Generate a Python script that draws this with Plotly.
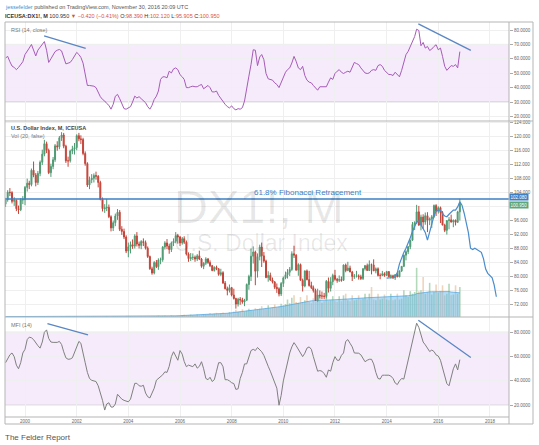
import pandas as pd
import plotly.graph_objects as go

# ---------------- data (monthly, Apr 1999 .. Nov 2016) ----------------
months = pd.date_range("1999-04-01", periods=212, freq="MS")

opens = [
    100.6, 101.9, 104.0, 103.9, 101.4, 101.7, 99.3, 99.0, 101.8,
    101.9, 105.4, 106.6, 106.2, 110.3, 108.9, 106.8, 109.4, 112.6, 114.9, 117.9, 116.0,
    109.6, 111.4, 113.3, 117.3, 117.0, 119.6, 120.4, 117.2, 113.0, 113.0, 115.8, 116.4,
    116.8, 120.2, 119.3, 119.1, 115.1, 112.2, 106.1, 107.6, 108.0, 108.8, 108.6, 106.8,
    102.0, 99.3, 99.5, 99.7, 97.0, 93.8, 95.3, 97.2, 98.3, 93.4, 92.8, 91.2,
    87.2, 88.4, 89.0, 88.6, 91.5, 89.2, 88.8, 89.9, 89.6, 88.0, 85.6, 82.1,
    80.9, 83.9, 82.7, 84.6, 84.7, 88.3, 89.5, 88.6, 87.6, 89.5, 90.0, 91.6,
    91.2, 89.5, 90.7, 89.7, 86.3, 85.0, 85.3, 85.4, 84.9, 85.8, 84.9, 82.8,
    83.7, 84.9, 83.9, 83.0, 81.6, 82.5, 82.1, 80.5, 81.0, 78.0, 76.4, 75.9,
    76.7, 74.6, 73.6, 72.0, 73.4, 73.2, 72.6, 73.1, 77.6, 79.9, 85.7, 86.9,
    81.4, 85.6, 88.3, 85.8, 84.3, 79.6, 80.2, 78.9, 78.3, 76.8, 76.4, 74.9,
    77.9, 79.5, 80.4, 81.1, 81.9, 86.4, 86.0, 81.7, 83.3, 78.8, 77.2, 81.5,
    79.0, 77.3, 76.7, 75.9, 73.0, 74.6, 74.3, 74.3, 74.2, 78.5, 76.5, 78.4,
    80.2, 79.1, 78.8, 79.0, 78.8, 83.2, 81.6, 82.3, 81.2, 79.9, 80.0, 80.1,
    79.8, 79.3, 82.1, 83.0, 81.6, 83.3, 83.2, 81.5, 82.1, 80.2, 80.2, 80.7,
    80.2, 81.3, 79.8, 80.1, 79.5, 80.4, 79.8, 81.5, 82.8, 86.0, 87.0, 88.4,
    90.3, 94.8, 95.3, 98.4, 94.6, 96.9, 95.5, 97.3, 96.0, 96.4, 97.0, 100.2,
    98.6, 99.6, 98.2, 94.6, 93.1, 95.9, 96.1, 95.5, 96.0, 95.4, 98.39,
]
highs = [
    102.4, 104.6, 105.2, 104.3, 102.6, 101.9, 100.2, 102.3, 102.9,
    105.8, 107.9, 107.3, 110.8, 112.8, 109.5, 110.1, 113.1, 116.2, 119.0, 118.5, 116.5,
    112.2, 114.1, 117.8, 118.6, 120.1, 121.2, 121.0, 117.6, 114.2, 116.2, 117.3, 118.1,
    120.6, 121.0, 120.3, 119.6, 115.7, 112.6, 108.5, 109.2, 109.4, 109.9, 108.9, 107.3,
    102.5, 100.6, 102.1, 100.5, 97.4, 95.9, 97.9, 99.2, 98.9, 94.3, 93.6, 91.7,
    89.6, 89.9, 90.5, 92.0, 92.6, 89.9, 90.3, 90.8, 90.2, 88.5, 85.9, 82.7,
    84.3, 84.6, 85.1, 85.3, 88.6, 90.0, 90.6, 89.3, 89.9, 90.8, 92.6, 92.1,
    91.5, 91.2, 91.4, 90.2, 86.8, 86.6, 86.5, 85.9, 86.3, 87.3, 85.2, 84.0,
    85.4, 85.2, 84.5, 83.2, 82.8, 83.0, 82.3, 82.1, 81.4, 78.6, 77.0, 77.6,
    76.9, 76.4, 73.8, 73.8, 74.0, 73.8, 73.5, 77.9, 80.4, 87.9, 88.5, 87.3,
    86.5, 89.0, 89.6, 86.9, 84.7, 81.4, 81.0, 79.6, 78.6, 77.9, 76.8, 78.3,
    79.9, 81.3, 82.0, 82.6, 87.1, 88.7, 86.3, 83.7, 83.6, 79.3, 81.6, 81.9,
    81.5, 78.4, 77.3, 76.4, 76.4, 75.9, 75.6, 75.2, 78.9, 79.6, 79.7, 80.7,
    81.8, 79.5, 80.2, 79.9, 83.3, 83.6, 84.1, 83.0, 81.5, 80.6, 81.5, 80.5,
    80.4, 82.3, 83.2, 83.6, 84.5, 83.6, 84.8, 82.5, 82.5, 80.8, 81.5, 81.1,
    81.5, 81.4, 80.5, 80.4, 80.6, 81.0, 81.6, 82.9, 86.2, 87.4, 88.6, 90.4,
    95.5, 95.7, 100.4, 100.1, 97.6, 97.7, 98.2, 98.3, 96.8, 97.5, 100.5, 100.6,
    100.0, 99.9, 98.6, 95.0, 96.0, 96.9, 97.6, 96.2, 96.2, 98.7, 102.12,
]
lows = [
    99.8, 101.3, 102.9, 100.8, 100.1, 98.6, 97.8, 98.6, 100.6,
    100.3, 104.2, 104.9, 105.7, 108.3, 105.7, 106.1, 108.6, 111.8, 114.3, 115.2, 109.2,
    108.4, 110.6, 112.7, 115.9, 116.3, 118.7, 116.6, 112.4, 111.3, 112.5, 114.9, 114.8,
    116.0, 118.6, 117.8, 114.6, 111.6, 105.5, 104.9, 106.6, 106.8, 107.6, 105.4, 101.7,
    98.5, 98.1, 98.6, 96.6, 92.8, 92.9, 94.3, 96.1, 92.9, 91.8, 90.6, 86.6,
    85.4, 86.5, 87.8, 87.9, 88.5, 87.9, 87.7, 88.6, 87.6, 85.2, 81.8, 80.4,
    80.5, 82.3, 81.8, 83.4, 84.1, 87.6, 87.7, 86.4, 86.9, 88.6, 89.4, 89.3,
    88.6, 89.0, 89.2, 85.9, 84.1, 84.3, 84.6, 84.1, 84.3, 84.6, 82.4, 82.0,
    83.2, 83.5, 82.6, 81.4, 81.3, 81.7, 80.1, 80.0, 77.8, 76.2, 74.5, 75.3,
    74.2, 73.3, 70.7, 71.3, 71.8, 72.1, 71.4, 72.9, 76.1, 78.6, 83.6, 77.4,
    79.6, 84.5, 82.6, 83.8, 79.4, 78.4, 78.6, 77.9, 76.3, 75.2, 74.2, 74.3,
    76.9, 79.1, 79.3, 80.0, 81.5, 85.2, 81.6, 80.1, 78.8, 75.6, 76.8, 78.8,
    77.0, 76.3, 75.3, 72.9, 72.7, 73.6, 73.4, 73.4, 73.6, 75.3, 75.6, 77.4,
    78.7, 78.1, 78.3, 78.4, 78.6, 81.1, 81.4, 81.1, 78.6, 79.2, 79.6, 79.0,
    78.9, 78.9, 81.6, 81.6, 81.5, 80.5, 81.5, 80.8, 79.9, 79.1, 80.0, 79.8,
    80.0, 79.8, 79.3, 79.2, 78.9, 79.7, 79.7, 81.2, 82.6, 84.5, 86.3, 87.7,
    90.1, 93.2, 94.9, 94.4, 93.1, 93.5, 94.7, 92.6, 94.6, 93.8, 96.7, 97.2,
    97.9, 95.2, 94.6, 92.6, 91.9, 93.4, 95.3, 94.0, 94.5, 95.3, 95.905,
]
closes = [
    101.9, 104.0, 103.9, 101.4, 101.7, 99.3, 99.0, 101.8, 101.9,
    105.4, 106.6, 106.2, 110.3, 108.9, 106.8, 109.4, 112.6, 114.9, 117.9, 116.0, 109.6,
    111.4, 113.3, 117.3, 117.0, 119.6, 120.4, 117.2, 113.0, 113.0, 115.8, 116.4, 116.8,
    120.2, 119.3, 119.1, 115.1, 112.2, 106.1, 107.6, 108.0, 108.8, 108.6, 106.8, 102.0,
    99.3, 99.5, 99.7, 97.0, 93.8, 95.3, 97.2, 98.3, 93.4, 92.8, 91.2, 87.2,
    88.4, 89.0, 88.6, 91.5, 89.2, 88.8, 89.9, 89.6, 88.0, 85.6, 82.1, 80.9,
    83.9, 82.7, 84.6, 84.7, 88.3, 89.5, 88.6, 87.6, 89.5, 90.0, 91.6, 91.2,
    89.5, 90.7, 89.7, 86.3, 85.0, 85.3, 85.4, 84.9, 85.8, 84.9, 82.8, 83.7,
    84.9, 83.9, 83.0, 81.6, 82.5, 82.1, 80.5, 81.0, 78.0, 76.4, 75.9, 76.7,
    74.6, 73.6, 72.0, 73.4, 73.2, 72.6, 73.1, 77.6, 79.9, 85.7, 86.9, 81.4,
    85.6, 88.3, 85.8, 84.3, 79.6, 80.2, 78.9, 78.3, 76.8, 76.4, 74.9, 77.9,
    79.5, 80.4, 81.1, 81.9, 86.4, 86.0, 81.7, 83.3, 78.8, 77.2, 81.5, 79.0,
    77.3, 76.7, 75.9, 73.0, 74.6, 74.3, 74.3, 74.2, 78.5, 76.5, 78.4, 80.2,
    79.1, 78.8, 79.0, 78.8, 83.2, 81.6, 82.3, 81.2, 79.9, 80.0, 80.1, 79.8,
    79.3, 82.1, 83.0, 81.6, 83.3, 83.2, 81.5, 82.1, 80.2, 80.2, 80.7, 80.2,
    81.3, 79.8, 80.1, 79.5, 80.4, 79.8, 81.5, 82.8, 86.0, 87.0, 88.4, 90.3,
    94.8, 95.3, 98.4, 94.6, 96.9, 95.5, 97.3, 96.0, 96.4, 97.0, 100.2, 98.6,
    99.6, 98.2, 94.6, 93.1, 95.9, 96.1, 95.5, 96.0, 95.4, 98.39, 100.95,
]
volume = [
    8, 10, 12, 9, 8, 11, 9, 10, 12,
    10, 12, 14, 11, 10, 13, 9, 10, 12, 14, 11, 13,
    11, 12, 14, 10, 12, 15, 11, 12, 14, 10, 11, 13,
    12, 14, 15, 11, 13, 16, 12, 13, 15, 11, 12, 14,
    13, 15, 17, 12, 14, 18, 13, 14, 17, 13, 14, 16,
    14, 16, 18, 13, 15, 19, 14, 15, 18, 14, 16, 20,
    18, 24, 30, 22, 26, 32, 24, 26, 34, 25, 28, 36,
    32, 42, 55, 40, 46, 58, 42, 45, 60, 44, 50, 64,
    58, 70, 95, 72, 80, 100, 76, 85, 110, 82, 92, 120,
    110, 130, 175, 125, 140, 185, 130, 150, 200, 170, 160, 210,
    180, 200, 260, 190, 210, 280, 210, 230, 300, 220, 250, 320,
    280, 310, 420, 330, 460, 520, 360, 340, 480, 360, 400, 520,
    360, 330, 450, 360, 400, 480, 340, 380, 520, 380, 400, 500,
    380, 360, 500, 380, 520, 560, 400, 380, 520, 400, 420, 520,
    420, 440, 560, 420, 560, 720, 420, 400, 560, 420, 440, 540,
    420, 400, 560, 400, 420, 560, 420, 440, 640, 520, 480, 620,
    560, 600, 1180, 620, 640, 960, 560, 600, 820, 540, 600, 780,
    580, 620, 760, 520, 560, 800, 520, 540, 760, 560, 720,
]
volume_ma = [
    10, 10, 10, 10, 10, 10, 10, 10, 10,
    11, 11, 11, 11, 11, 11, 11, 11, 11, 11, 11, 11,
    12, 12, 12, 12, 12, 12, 12, 12, 12, 12, 12, 12,
    13, 13, 13, 13, 13, 13, 13, 13, 13, 13, 13, 13,
    14, 14, 14, 14, 14, 14, 14, 14, 14, 14, 14, 14,
    15, 15, 15, 16, 16, 16, 16, 16, 16, 17, 17, 17,
    18, 19, 20, 21, 22, 23, 24, 25, 26, 27, 28, 29,
    31, 33, 35, 37, 39, 41, 43, 45, 47, 49, 51, 53,
    56, 59, 63, 66, 70, 73, 76, 80, 84, 87, 90, 94,
    100, 105, 112, 118, 124, 130, 135, 140, 147, 152, 158, 165,
    172, 178, 186, 192, 198, 205, 212, 220, 228, 234, 242, 250,
    260, 270, 284, 294, 306, 320, 330, 340, 352, 360, 368, 378,
    384, 388, 392, 396, 398, 400, 402, 404, 406, 408, 410, 412,
    414, 416, 420, 422, 426, 430, 432, 434, 436, 440, 442, 446,
    450, 455, 460, 462, 466, 472, 474, 476, 478, 480, 482, 484,
    486, 486, 488, 488, 488, 490, 490, 492, 500, 506, 510, 520,
    526, 534, 560, 570, 578, 592, 594, 596, 604, 606, 608, 612,
    614, 614, 612, 610, 608, 610, 600, 596, 590, 584, 580,
]
rsi = [
    60.6, 61.7, 58, 55, 54, 52.5, 54, 56, 58,
    63, 65, 67.5, 70, 66, 62, 66, 68, 70, 72, 66, 57.5,
    60, 63, 65, 66, 66.5, 65.5, 61.7, 56.5, 57, 57.5, 59.5, 62,
    64.5, 63, 61, 57, 48, 41.5, 41.5, 41.5, 41, 40, 36.5, 33.7,
    31.8, 30.7, 29, 27.7, 25, 28.4, 34, 35.3, 32.3, 28.4, 25.4, 25,
    26.1, 26.8, 30, 34.1, 32.8, 33.7, 32.3, 30.7, 29.5, 26.8, 25, 27.7,
    31.8, 34.1, 37.6, 45.7, 47.5, 47.5, 46.8, 51.4, 50.2, 53, 53.7, 52.5,
    49, 47.5, 45.7, 40, 40, 40.6, 41, 40.6, 40.6, 41.5, 42.2, 39.2,
    40.6, 41.5, 40, 37, 37, 37.6, 34.6, 32.3, 30.7, 28.4, 26.8, 25.9,
    27.3, 25.4, 24.5, 25.4, 25, 26.1, 30.7, 41, 48, 56, 66.3, 66,
    55.3, 61.3, 63, 59.4, 49.8, 46.1, 45.7, 45.2, 43.3, 42.2, 40, 43.3,
    46.1, 50.7, 52.5, 53.7, 57.1, 61.7, 58.3, 53.7, 52.5, 54.8, 48.4, 45.2,
    43.8, 43.3, 41.5, 40, 38.2, 40.6, 40.6, 40.6, 40.6, 43.8, 46.8, 45.7,
    49.8, 51.4, 52.5, 50.7, 49.8, 50.7, 51.4, 50.7, 53.7, 57.5, 56.7, 56,
    53.7, 51.4, 50.2, 49.8, 50.2, 52, 52.5, 52, 55.3, 56, 54.8, 52,
    50.2, 49.1, 49.1, 48.4, 50.7, 49.1, 47.5, 52, 57.1, 62.9, 65.2, 68.2,
    71.4, 75.5, 80.6, 79.7, 69.1, 71.4, 67.5, 68.6, 65.8, 66.8, 68.6, 69.8,
    66.3, 67.5, 61.7, 54.8, 52, 53.7, 55.3, 54.8, 56, 53.7, 65,
]
mfi = [
    55, 58, 61.5, 63, 60, 53, 50, 55, 63,
    66, 74, 76, 75.5, 74, 71, 69, 67, 72, 80, 82, 75,
    72, 71.7, 71.7, 71.7, 72.5, 70, 64, 59, 57.8, 58, 59, 63,
    68, 72.5, 71, 64, 55, 47, 42, 40.5, 40, 39.5, 36, 31,
    24, 16, 21, 22, 18.5, 18.5, 21, 29, 27, 25, 24, 23.3,
    22.8, 25, 32, 38, 38, 36, 35.6, 36.4, 30, 27, 26, 30,
    34, 40.6, 42, 43, 45, 47.5, 47, 52, 60, 64, 60, 57,
    65, 62, 56, 51.7, 53, 52, 51.7, 54, 50.5, 52, 55.8, 50,
    42, 41, 43, 39.5, 41, 48, 55, 55, 51.7, 41, 41, 40,
    38.5, 37.8, 33, 33.5, 42, 47, 54, 54, 60, 65, 66, 65,
    67.5, 66, 64, 61, 56, 52, 48, 43, 38, 34, 20, 28,
    40, 48, 57, 63, 68, 71.5, 69, 66, 63, 60, 62.8, 67,
    68, 66, 60, 53, 48, 48.5, 48, 46, 43, 49, 48, 55,
    60, 57, 57, 61, 63, 72.5, 74, 71, 68, 63, 62.8, 62.8,
    61.5, 59, 55.8, 57, 57.8, 57.8, 54, 47, 42, 41.5, 44.7, 44.7,
    44.7, 44.7, 44, 42, 38.3, 37, 40, 42, 41.5, 49, 58, 66,
    73.5, 80, 87.5, 84, 78, 72, 69.7, 67, 64.2, 65.4, 64.2, 61.4,
    60.5, 57, 50, 43, 37.8, 36, 44, 50, 54, 49, 57.5,
]
overlay_months = pd.date_range("2014-01-01", periods=52, freq="MS")
overlay_values = [
    79.4, 79.4, 79.5, 79.6, 79.9, 81, 83.5, 85.5, 86.8, 88, 89.4, 91,
    92.8, 94.3, 95.5, 95.8, 94.6, 93.8, 92.5, 90.3, 92.8, 95.5, 97.2, 98.6,
    98.9, 98.9, 97.8, 97.2, 97, 97.7, 98.3, 98.9, 98.9, 99.8, 101.3, 100.3,
    98, 95.5, 92.5, 88, 87.6, 88, 87.6, 87.3, 86.8, 85, 82, 80.8,
    80.2, 79.5, 77.5, 74.1,
]
fib_level = 102.080
last_price = 100.950
rsi_trend_dates = [["2000-09-27", "2002-05-08"], ["2015-03-25", "2017-04-05"]]
rsi_trend_vals = [[76, 67.3], [84.3, 65.9]]
mfi_trend_dates = [["2000-11-13", "2002-06-10"], ["2015-03-25", "2017-04-05"]]
mfi_trend_vals = [[87.2, 77.8], [90, 59.2]]
year_ticks = [2000, 2002, 2004, 2006, 2008, 2010, 2012, 2014, 2016, 2018]
rsi_ticks = [20, 30, 40, 50, 60, 70, 80]
price_ticks = [72, 76, 80, 84, 88, 92, 96, 100, 104, 108, 112, 116, 120, 124]
hidden_price_ticks = [100]  # covered by the last-price label in the reference
mfi_ticks = [20, 40, 60, 80]

# ---------------- figure ----------------
W, H = 539, 445
ML, MR, MT, MB = 5, 30, 22, 28
PW, PH = W - ML - MR, H - MT - MB


def px(xp):  # pixel -> paper x
    return (xp - ML) / PW


def py(yp):  # pixel -> paper y
    return (H - MB - yp) / PH


rsi_dom = [py(121), 1]
price_dom = [py(317), py(121)]
mfi_dom = [0, py(317)]

UP, DOWN = "#4f9a73", "#c4453a"
fig = go.Figure()

vcol = ["rgba(130,190,140,0.6)" if c >= o else "rgba(225,175,130,0.55)"
        for o, c in zip(opens, closes)]
fig.add_trace(go.Bar(x=months, y=volume, marker=dict(color=vcol, line=dict(width=0)),
                     xaxis="x", yaxis="y2", hoverinfo="skip"))
fig.add_trace(go.Scatter(x=months, y=volume_ma, mode="lines",
                         line=dict(color="rgba(80,165,225,0.9)", width=0.8),
                         fill="tozeroy", fillcolor="rgba(110,185,235,0.5)",
                         xaxis="x", yaxis="y2", hoverinfo="skip"))
fig.add_trace(go.Candlestick(x=months, open=opens, high=highs, low=lows, close=closes,
                             xaxis="x", yaxis="y4", whiskerwidth=0,
                             increasing=dict(line=dict(color=UP, width=1), fillcolor=UP),
                             decreasing=dict(line=dict(color=DOWN, width=1), fillcolor=DOWN)))
fig.add_trace(go.Scatter(x=overlay_months, y=overlay_values, mode="lines",
                         line=dict(color="#4a8ccc", width=1.2), xaxis="x", yaxis="y4"))
fig.add_trace(go.Scatter(x=months, y=rsi, mode="lines",
                         line=dict(color="#a65bb8", width=1), xaxis="x", yaxis="y"))
fig.add_trace(go.Scatter(x=months, y=mfi, mode="lines",
                         line=dict(color="#808080", width=1), xaxis="x", yaxis="y3"))
for d, v in zip(rsi_trend_dates, rsi_trend_vals):
    fig.add_trace(go.Scatter(x=d, y=v, mode="lines", line=dict(color="#5a86c4", width=1.3),
                             xaxis="x", yaxis="y"))
for d, v in zip(mfi_trend_dates, mfi_trend_vals):
    fig.add_trace(go.Scatter(x=d, y=v, mode="lines", line=dict(color="#5a86c4", width=1.3),
                             xaxis="x", yaxis="y3"))

TICKF = dict(family="Liberation Sans, Arial, sans-serif", size=4.5, color="#666")
GRID = "#efefef"

yax_common = dict(side="right", anchor="x", showgrid=True, gridcolor=GRID, gridwidth=1,
                  zeroline=False, ticks="outside", ticklen=3, tickcolor="#aaa",
                  tickfont=TICKF, showline=False, fixedrange=True)

fig.update_layout(
    width=W, height=H, margin=dict(l=ML, r=MR, t=MT, b=MB),
    paper_bgcolor="white", plot_bgcolor="white", showlegend=False, bargap=0.2,
    xaxis=dict(domain=[0, 1], type="date", range=["1999-03-24", "2018-09-27"],
               anchor="y3", tickvals=[f"{y}-01-01" for y in year_ticks],
               ticktext=[str(y) for y in year_ticks], showgrid=True, gridcolor=GRID,
               zeroline=False, showline=False, ticks="", tickfont=TICKF,
               rangeslider=dict(visible=False)),
    yaxis=dict(domain=rsi_dom, range=[16.8, 85.6], tickvals=rsi_ticks,
               ticktext=[f"{t:.4f}" for t in rsi_ticks], **yax_common),
    yaxis2=dict(domain=price_dom, range=[0, 4704], visible=False, anchor="x",
                fixedrange=True),
    yaxis4=dict(overlaying="y2", range=[68.3, 124.4], tickvals=price_ticks,
                ticktext=["" if t in hidden_price_ticks else f"{t:.3f}" for t in price_ticks],
                **yax_common),
    yaxis3=dict(domain=mfi_dom, range=[10.3, 92.6], tickvals=mfi_ticks,
                ticktext=[f"{t:.4f}" for t in mfi_ticks], **yax_common),
)

FRAME = "#b5b5b5"
shapes = [
    # bands
    dict(type="rect", xref="paper", yref="y", x0=0, x1=1, y0=30, y1=70,
         fillcolor="#f6ebfb", line=dict(width=0), layer="below"),
    dict(type="line", xref="paper", yref="y", x0=0, x1=1, y0=70, y1=70,
         line=dict(color="#c9c9c9", width=1), layer="below"),
    dict(type="line", xref="paper", yref="y", x0=0, x1=1, y0=30, y1=30,
         line=dict(color="#c9c9c9", width=1), layer="below"),
    dict(type="rect", xref="paper", yref="y3", x0=0, x1=1, y0=20, y1=80,
         fillcolor="#f6ebfb", line=dict(width=0), layer="below"),
    dict(type="line", xref="paper", yref="y3", x0=0, x1=1, y0=80, y1=80,
         line=dict(color="#c9c9c9", width=1), layer="below"),
    dict(type="line", xref="paper", yref="y3", x0=0, x1=1, y0=20, y1=20,
         line=dict(color="#c9c9c9", width=1), layer="below"),
    # fibonacci level
    dict(type="line", xref="paper", yref="y4", x0=0, x1=1, y0=fib_level, y1=fib_level,
         line=dict(color="#3d7fc4", width=1.3)),
    # frame
    dict(type="rect", xref="paper", yref="paper", x0=0, x1=px(533), y0=py(424), y1=1,
         line=dict(color=FRAME, width=1)),
    dict(type="line", xref="paper", yref="paper", x0=1, x1=1, y0=py(424), y1=1,
         line=dict(color=FRAME, width=1)),
    dict(type="line", xref="paper", yref="paper", x0=0, x1=px(533), y0=rsi_dom[0], y1=rsi_dom[0],
         line=dict(color=FRAME, width=1)),
    dict(type="line", xref="paper", yref="paper", x0=0, x1=px(533), y0=price_dom[0], y1=price_dom[0],
         line=dict(color=FRAME, width=1)),
    dict(type="line", xref="paper", yref="paper", x0=0, x1=1, y0=0, y1=0,
         line=dict(color=FRAME, width=1)),
]
fig.update_layout(shapes=shapes)

FONT = "Liberation Sans, Arial, sans-serif"
ann = [
    dict(x=0.504, y=py(206), xref="paper", yref="paper", text="DX1!, M", showarrow=False,
         font=dict(family=FONT, size=47, color="rgba(0,0,0,0.09)"), xanchor="center", yanchor="middle"),
    dict(x=px(261), y=py(243), xref="paper", yref="paper", text="U.S. Dollar Index", showarrow=False,
         font=dict(family=FONT, size=23, color="rgba(0,0,0,0.09)"), xanchor="center", yanchor="middle"),
    dict(x="2008-10-16", y=fib_level, xref="x", yref="y4", text="61.8% Fibonacci Retracement",
         showarrow=False, xanchor="left", yanchor="bottom",
         font=dict(family=FONT, size=8, color="#3d7fc4")),
    dict(x=1, y=fib_level, xref="paper", yref="y4", text=f"{fib_level:.3f}", showarrow=False,
         xanchor="left", yanchor="middle", yshift=1.5, bgcolor="#3d7fc4", borderpad=0.5,
         font=dict(family=FONT, size=4.5, color="white")),
    dict(x=1, y=last_price, xref="paper", yref="y4", text=f"{last_price:.3f}", showarrow=False,
         xanchor="left", yanchor="middle", yshift=-2.5, bgcolor="#5ba67a", borderpad=0.5,
         font=dict(family=FONT, size=4.5, color="white")),
    dict(x=px(3), y=py(6.7), xref="paper", yref="paper", showarrow=False, xanchor="left",
         yanchor="middle", font=dict(family=FONT, size=5.5, color="#555"),
         text="<span style='color:#3d8fd1'>jessefelder</span> published on TradingView.com, "
              "November 30, 2016 20:09 UTC"),
    dict(x=px(3), y=py(15.7), xref="paper", yref="paper", showarrow=False, xanchor="left",
         yanchor="middle", font=dict(family=FONT, size=5.5, color="#333"),
         text="<b>ICEUSA:DX1!, M</b> 100.950 <span style='color:#d75442'>▼ −0.420 (−0.41%)</span> "
              "O:<span style='color:#d75442'>98.390</span> H:<span style='color:#d75442'>102.120</span> "
              "L:<span style='color:#d75442'>95.905</span> C:<span style='color:#d75442'>100.950</span>"),
    dict(x=px(3), y=py(437), xref="paper", yref="paper", showarrow=False, xanchor="left",
         yanchor="middle", text="The Felder Report", font=dict(family=FONT, size=8, color="#555")),
    dict(x=px(8.5), y=py(30), xref="paper", yref="paper", showarrow=False, xanchor="left",
         yanchor="middle", text="RSI (14, close)", font=dict(family=FONT, size=5.5, color="#777")),
    dict(x=px(8.5), y=py(128), xref="paper", yref="paper", showarrow=False, xanchor="left",
         yanchor="middle", text="<b>U.S. Dollar Index, M, ICEUSA</b>",
         font=dict(family=FONT, size=5.5, color="#444")),
    dict(x=px(8.5), y=py(136), xref="paper", yref="paper", showarrow=False, xanchor="left",
         yanchor="middle", text="Vol (20, false)", font=dict(family=FONT, size=5.5, color="#777")),
    dict(x=px(8.5), y=py(325), xref="paper", yref="paper", showarrow=False, xanchor="left",
         yanchor="middle", text="MFI (14)", font=dict(family=FONT, size=5.5, color="#777")),
]
fig.update_layout(annotations=ann)

fig.write_html("out.html")
